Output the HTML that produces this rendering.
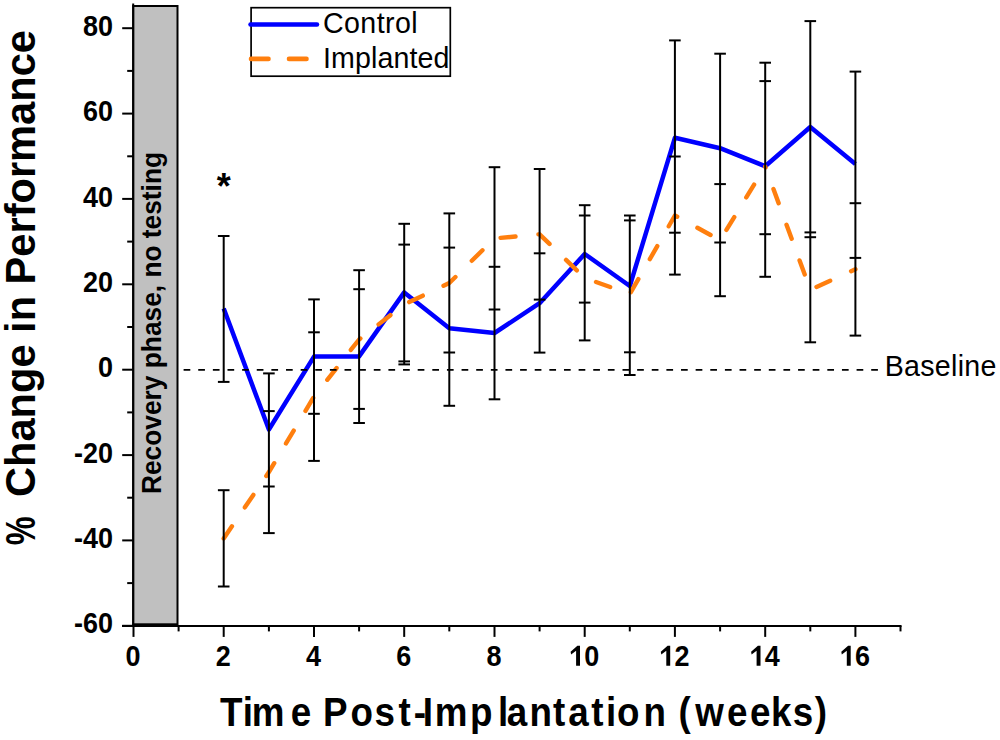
<!DOCTYPE html><html><head><meta charset="utf-8"><style>html,body{margin:0;padding:0;background:#fff;width:1000px;height:740px;overflow:hidden}svg{display:block}text{font-family:"Liberation Sans",sans-serif}</style></head><body>
<svg width="1000" height="740" viewBox="0 0 1000 740">
<rect x="133.2" y="6" width="44.30000000000001" height="618.3" fill="#c0c0c0" stroke="#000" stroke-width="2"/>
<line x1="133.2" y1="3.5" x2="133.2" y2="626.9" stroke="#000" stroke-width="2"/>
<line x1="122" y1="625.9" x2="901.54" y2="625.9" stroke="#000" stroke-width="2"/>
<line x1="122.19999999999999" y1="28.2" x2="133.2" y2="28.2" stroke="#000" stroke-width="2"/>
<text transform="translate(113,35.8) scale(0.9,1)" text-anchor="end" font-size="30" font-weight="bold">80</text>
<line x1="127.19999999999999" y1="70.9" x2="133.2" y2="70.9" stroke="#000" stroke-width="2"/>
<line x1="122.19999999999999" y1="113.6" x2="133.2" y2="113.6" stroke="#000" stroke-width="2"/>
<text transform="translate(113,121.2) scale(0.9,1)" text-anchor="end" font-size="30" font-weight="bold">60</text>
<line x1="127.19999999999999" y1="156.3" x2="133.2" y2="156.3" stroke="#000" stroke-width="2"/>
<line x1="122.19999999999999" y1="198.9" x2="133.2" y2="198.9" stroke="#000" stroke-width="2"/>
<text transform="translate(113,206.5) scale(0.9,1)" text-anchor="end" font-size="30" font-weight="bold">40</text>
<line x1="127.19999999999999" y1="241.6" x2="133.2" y2="241.6" stroke="#000" stroke-width="2"/>
<line x1="122.19999999999999" y1="284.3" x2="133.2" y2="284.3" stroke="#000" stroke-width="2"/>
<text transform="translate(113,291.9) scale(0.9,1)" text-anchor="end" font-size="30" font-weight="bold">20</text>
<line x1="127.19999999999999" y1="327.0" x2="133.2" y2="327.0" stroke="#000" stroke-width="2"/>
<line x1="122.19999999999999" y1="369.7" x2="133.2" y2="369.7" stroke="#000" stroke-width="2"/>
<text transform="translate(113,377.3) scale(0.9,1)" text-anchor="end" font-size="30" font-weight="bold">0</text>
<line x1="127.19999999999999" y1="412.4" x2="133.2" y2="412.4" stroke="#000" stroke-width="2"/>
<line x1="122.19999999999999" y1="455.1" x2="133.2" y2="455.1" stroke="#000" stroke-width="2"/>
<text transform="translate(113,462.7) scale(0.9,1)" text-anchor="end" font-size="30" font-weight="bold">-20</text>
<line x1="127.19999999999999" y1="497.7" x2="133.2" y2="497.7" stroke="#000" stroke-width="2"/>
<line x1="122.19999999999999" y1="540.4" x2="133.2" y2="540.4" stroke="#000" stroke-width="2"/>
<text transform="translate(113,548.0) scale(0.9,1)" text-anchor="end" font-size="30" font-weight="bold">-40</text>
<line x1="127.19999999999999" y1="583.1" x2="133.2" y2="583.1" stroke="#000" stroke-width="2"/>
<line x1="122.19999999999999" y1="625.8" x2="133.2" y2="625.8" stroke="#000" stroke-width="2"/>
<text transform="translate(113,633.4) scale(0.9,1)" text-anchor="end" font-size="30" font-weight="bold">-60</text>
<line x1="133.5" y1="625.9" x2="133.5" y2="636.9" stroke="#000" stroke-width="2"/>
<text transform="translate(133.0,666.2) scale(0.9,1)" text-anchor="middle" font-size="30" font-weight="bold">0</text>
<line x1="178.6" y1="625.9" x2="178.6" y2="631.4" stroke="#000" stroke-width="2"/>
<line x1="223.7" y1="625.9" x2="223.7" y2="636.9" stroke="#000" stroke-width="2"/>
<text transform="translate(223.2,666.2) scale(0.9,1)" text-anchor="middle" font-size="30" font-weight="bold">2</text>
<line x1="268.9" y1="625.9" x2="268.9" y2="631.4" stroke="#000" stroke-width="2"/>
<line x1="314.0" y1="625.9" x2="314.0" y2="636.9" stroke="#000" stroke-width="2"/>
<text transform="translate(313.5,666.2) scale(0.9,1)" text-anchor="middle" font-size="30" font-weight="bold">4</text>
<line x1="359.1" y1="625.9" x2="359.1" y2="631.4" stroke="#000" stroke-width="2"/>
<line x1="404.2" y1="625.9" x2="404.2" y2="636.9" stroke="#000" stroke-width="2"/>
<text transform="translate(403.7,666.2) scale(0.9,1)" text-anchor="middle" font-size="30" font-weight="bold">6</text>
<line x1="449.3" y1="625.9" x2="449.3" y2="631.4" stroke="#000" stroke-width="2"/>
<line x1="494.5" y1="625.9" x2="494.5" y2="636.9" stroke="#000" stroke-width="2"/>
<text transform="translate(494.0,666.2) scale(0.9,1)" text-anchor="middle" font-size="30" font-weight="bold">8</text>
<line x1="539.6" y1="625.9" x2="539.6" y2="631.4" stroke="#000" stroke-width="2"/>
<line x1="584.7" y1="625.9" x2="584.7" y2="636.9" stroke="#000" stroke-width="2"/>
<text transform="translate(584.2,666.2) scale(0.9,1)" text-anchor="middle" font-size="30" font-weight="bold"><tspan fill="transparent">1</tspan>0</text>
<polygon points="577.4,645.8 580.0,645.8 580.0,665.7 576.1,665.7 576.1,650.8 571.1,654.4 570.6,651.8" fill="#000"/>
<line x1="629.8" y1="625.9" x2="629.8" y2="631.4" stroke="#000" stroke-width="2"/>
<line x1="674.9" y1="625.9" x2="674.9" y2="636.9" stroke="#000" stroke-width="2"/>
<text transform="translate(674.4,666.2) scale(0.9,1)" text-anchor="middle" font-size="30" font-weight="bold"><tspan fill="transparent">1</tspan>2</text>
<polygon points="667.6,645.8 670.2,645.8 670.2,665.7 666.3,665.7 666.3,650.8 661.3,654.4 660.8,651.8" fill="#000"/>
<line x1="720.1" y1="625.9" x2="720.1" y2="631.4" stroke="#000" stroke-width="2"/>
<line x1="765.2" y1="625.9" x2="765.2" y2="636.9" stroke="#000" stroke-width="2"/>
<text transform="translate(764.7,666.2) scale(0.9,1)" text-anchor="middle" font-size="30" font-weight="bold"><tspan fill="transparent">1</tspan>4</text>
<polygon points="757.9,645.8 760.5,645.8 760.5,665.7 756.6,665.7 756.6,650.8 751.6,654.4 751.1,651.8" fill="#000"/>
<line x1="810.3" y1="625.9" x2="810.3" y2="631.4" stroke="#000" stroke-width="2"/>
<line x1="855.4" y1="625.9" x2="855.4" y2="636.9" stroke="#000" stroke-width="2"/>
<text transform="translate(854.9,666.2) scale(0.9,1)" text-anchor="middle" font-size="30" font-weight="bold"><tspan fill="transparent">1</tspan>6</text>
<polygon points="848.1,645.8 850.7,645.8 850.7,665.7 846.8,665.7 846.8,650.8 841.8,654.4 841.3,651.8" fill="#000"/>
<line x1="900.5" y1="625.9" x2="900.5" y2="631.4" stroke="#000" stroke-width="2"/>
<polyline points="223.7,308.5 268.9,429.5 314.0,356.6 359.1,356.4 404.2,292.4 449.3,328.3 494.5,333 539.6,303.2 584.7,254 629.8,286 674.9,137.8 720.1,148.2 765.2,166.2 810.3,127 855.4,164" fill="none" stroke="#0000ff" stroke-width="4.5" stroke-linejoin="round"/>
<polyline points="223.7,538.4 268.9,472.1 314.0,396.6 359.1,339.5 404.2,304.5 449.3,283 494.5,238.4 539.6,234.3 584.7,278 629.8,294 674.9,215.5 720.1,240.2 765.2,166.5" fill="none" stroke="#ff7f0e" stroke-width="4.4" stroke-dasharray="15 23" stroke-dashoffset="0.3999999999999999" stroke-linecap="round" stroke-linejoin="round"/>
<polyline points="765.2,166.5 810.3,289.7 855.4,269.2" fill="none" stroke="#ff7f0e" stroke-width="4.4" stroke-dasharray="15 23" stroke-dashoffset="14" stroke-linecap="round" stroke-linejoin="round"/>
<line x1="223.7" y1="236" x2="223.7" y2="381.9" stroke="#000" stroke-width="2"/>
<line x1="223.7" y1="490.2" x2="223.7" y2="586.5" stroke="#000" stroke-width="2"/>
<line x1="217.9" y1="236" x2="229.5" y2="236" stroke="#000" stroke-width="2"/>
<line x1="217.9" y1="381.9" x2="229.5" y2="381.9" stroke="#000" stroke-width="2"/>
<line x1="217.9" y1="490.2" x2="229.5" y2="490.2" stroke="#000" stroke-width="2"/>
<line x1="217.9" y1="586.5" x2="229.5" y2="586.5" stroke="#000" stroke-width="2"/>
<line x1="268.9" y1="373.4" x2="268.9" y2="533.1" stroke="#000" stroke-width="2"/>
<line x1="263.1" y1="373.4" x2="274.7" y2="373.4" stroke="#000" stroke-width="2"/>
<line x1="263.1" y1="411.1" x2="274.7" y2="411.1" stroke="#000" stroke-width="2"/>
<line x1="263.1" y1="486.5" x2="274.7" y2="486.5" stroke="#000" stroke-width="2"/>
<line x1="263.1" y1="533.1" x2="274.7" y2="533.1" stroke="#000" stroke-width="2"/>
<line x1="314.0" y1="299.4" x2="314.0" y2="460.9" stroke="#000" stroke-width="2"/>
<line x1="308.2" y1="299.4" x2="319.8" y2="299.4" stroke="#000" stroke-width="2"/>
<line x1="308.2" y1="332.3" x2="319.8" y2="332.3" stroke="#000" stroke-width="2"/>
<line x1="308.2" y1="413.8" x2="319.8" y2="413.8" stroke="#000" stroke-width="2"/>
<line x1="308.2" y1="460.9" x2="319.8" y2="460.9" stroke="#000" stroke-width="2"/>
<line x1="359.1" y1="270.2" x2="359.1" y2="423" stroke="#000" stroke-width="2"/>
<line x1="353.3" y1="270.2" x2="364.9" y2="270.2" stroke="#000" stroke-width="2"/>
<line x1="353.3" y1="289.2" x2="364.9" y2="289.2" stroke="#000" stroke-width="2"/>
<line x1="353.3" y1="408.9" x2="364.9" y2="408.9" stroke="#000" stroke-width="2"/>
<line x1="353.3" y1="423" x2="364.9" y2="423" stroke="#000" stroke-width="2"/>
<line x1="404.2" y1="223.8" x2="404.2" y2="364.4" stroke="#000" stroke-width="2"/>
<line x1="398.4" y1="223.8" x2="410.0" y2="223.8" stroke="#000" stroke-width="2"/>
<line x1="398.4" y1="244.6" x2="410.0" y2="244.6" stroke="#000" stroke-width="2"/>
<line x1="398.4" y1="361.4" x2="410.0" y2="361.4" stroke="#000" stroke-width="2"/>
<line x1="398.4" y1="364.4" x2="410.0" y2="364.4" stroke="#000" stroke-width="2"/>
<line x1="449.3" y1="213.4" x2="449.3" y2="405.8" stroke="#000" stroke-width="2"/>
<line x1="443.5" y1="213.4" x2="455.1" y2="213.4" stroke="#000" stroke-width="2"/>
<line x1="443.5" y1="247.6" x2="455.1" y2="247.6" stroke="#000" stroke-width="2"/>
<line x1="443.5" y1="352.5" x2="455.1" y2="352.5" stroke="#000" stroke-width="2"/>
<line x1="443.5" y1="405.8" x2="455.1" y2="405.8" stroke="#000" stroke-width="2"/>
<line x1="494.5" y1="167.2" x2="494.5" y2="399.3" stroke="#000" stroke-width="2"/>
<line x1="488.7" y1="167.2" x2="500.3" y2="167.2" stroke="#000" stroke-width="2"/>
<line x1="488.7" y1="266.8" x2="500.3" y2="266.8" stroke="#000" stroke-width="2"/>
<line x1="488.7" y1="309.5" x2="500.3" y2="309.5" stroke="#000" stroke-width="2"/>
<line x1="488.7" y1="399.3" x2="500.3" y2="399.3" stroke="#000" stroke-width="2"/>
<line x1="539.6" y1="169" x2="539.6" y2="352.6" stroke="#000" stroke-width="2"/>
<line x1="533.8" y1="169" x2="545.4" y2="169" stroke="#000" stroke-width="2"/>
<line x1="533.8" y1="253.3" x2="545.4" y2="253.3" stroke="#000" stroke-width="2"/>
<line x1="533.8" y1="299.6" x2="545.4" y2="299.6" stroke="#000" stroke-width="2"/>
<line x1="533.8" y1="352.6" x2="545.4" y2="352.6" stroke="#000" stroke-width="2"/>
<line x1="584.7" y1="205.2" x2="584.7" y2="340.4" stroke="#000" stroke-width="2"/>
<line x1="578.9" y1="205.2" x2="590.5" y2="205.2" stroke="#000" stroke-width="2"/>
<line x1="578.9" y1="215.5" x2="590.5" y2="215.5" stroke="#000" stroke-width="2"/>
<line x1="578.9" y1="302.6" x2="590.5" y2="302.6" stroke="#000" stroke-width="2"/>
<line x1="578.9" y1="340.4" x2="590.5" y2="340.4" stroke="#000" stroke-width="2"/>
<line x1="629.8" y1="215.5" x2="629.8" y2="375" stroke="#000" stroke-width="2"/>
<line x1="624.0" y1="215.5" x2="635.6" y2="215.5" stroke="#000" stroke-width="2"/>
<line x1="624.0" y1="220.4" x2="635.6" y2="220.4" stroke="#000" stroke-width="2"/>
<line x1="624.0" y1="352.3" x2="635.6" y2="352.3" stroke="#000" stroke-width="2"/>
<line x1="624.0" y1="375" x2="635.6" y2="375" stroke="#000" stroke-width="2"/>
<line x1="674.9" y1="40.4" x2="674.9" y2="274.6" stroke="#000" stroke-width="2"/>
<line x1="669.1" y1="40.4" x2="680.7" y2="40.4" stroke="#000" stroke-width="2"/>
<line x1="669.1" y1="156.5" x2="680.7" y2="156.5" stroke="#000" stroke-width="2"/>
<line x1="669.1" y1="232.7" x2="680.7" y2="232.7" stroke="#000" stroke-width="2"/>
<line x1="669.1" y1="274.6" x2="680.7" y2="274.6" stroke="#000" stroke-width="2"/>
<line x1="720.1" y1="53.7" x2="720.1" y2="296.2" stroke="#000" stroke-width="2"/>
<line x1="714.3" y1="53.7" x2="725.9" y2="53.7" stroke="#000" stroke-width="2"/>
<line x1="714.3" y1="184.1" x2="725.9" y2="184.1" stroke="#000" stroke-width="2"/>
<line x1="714.3" y1="242.5" x2="725.9" y2="242.5" stroke="#000" stroke-width="2"/>
<line x1="714.3" y1="296.2" x2="725.9" y2="296.2" stroke="#000" stroke-width="2"/>
<line x1="765.2" y1="62.7" x2="765.2" y2="276.8" stroke="#000" stroke-width="2"/>
<line x1="759.4" y1="62.7" x2="771.0" y2="62.7" stroke="#000" stroke-width="2"/>
<line x1="759.4" y1="81.1" x2="771.0" y2="81.1" stroke="#000" stroke-width="2"/>
<line x1="759.4" y1="234.2" x2="771.0" y2="234.2" stroke="#000" stroke-width="2"/>
<line x1="759.4" y1="276.8" x2="771.0" y2="276.8" stroke="#000" stroke-width="2"/>
<line x1="810.3" y1="21.1" x2="810.3" y2="342.3" stroke="#000" stroke-width="2"/>
<line x1="804.5" y1="21.1" x2="816.1" y2="21.1" stroke="#000" stroke-width="2"/>
<line x1="804.5" y1="232.4" x2="816.1" y2="232.4" stroke="#000" stroke-width="2"/>
<line x1="804.5" y1="237.2" x2="816.1" y2="237.2" stroke="#000" stroke-width="2"/>
<line x1="804.5" y1="342.3" x2="816.1" y2="342.3" stroke="#000" stroke-width="2"/>
<line x1="855.4" y1="71.6" x2="855.4" y2="335.6" stroke="#000" stroke-width="2"/>
<line x1="849.6" y1="71.6" x2="861.2" y2="71.6" stroke="#000" stroke-width="2"/>
<line x1="849.6" y1="203.2" x2="861.2" y2="203.2" stroke="#000" stroke-width="2"/>
<line x1="849.6" y1="257.9" x2="861.2" y2="257.9" stroke="#000" stroke-width="2"/>
<line x1="849.6" y1="335.6" x2="861.2" y2="335.6" stroke="#000" stroke-width="2"/>
<line x1="183.6" y1="369.8" x2="878.5" y2="369.8" stroke="#000" stroke-width="1.8" stroke-dasharray="6.7 7.93"/>
<text x="223.7" y="198.8" text-anchor="middle" font-size="36" font-weight="bold">*</text>
<rect x="251.1" y="7.7" width="199.2" height="68.5" fill="#fff" stroke="#000" stroke-width="1.7"/>
<line x1="250.5" y1="24.4" x2="317" y2="24.4" stroke="#0000ff" stroke-width="4.5" stroke-linecap="round"/>
<line x1="251" y1="58.9" x2="307" y2="58.9" stroke="#ff7f0e" stroke-width="4.6" stroke-dasharray="17.5 20.5" stroke-linecap="round"/>
<text x="323" y="32.6" font-size="28.6" letter-spacing="0.4">Control</text>
<text x="323" y="68.2" font-size="28.6" letter-spacing="0.1">Implanted</text>
<text x="884.7" y="375.8" font-size="28.6" letter-spacing="0.3">Baseline</text>
<text transform="translate(161.3,494) rotate(-90) scale(0.94,1)" font-size="28" font-weight="bold">Recovery phase, no testing</text>
<text transform="translate(35,545.3) rotate(-90) scale(0.78,1)" font-size="41.6" font-weight="bold">%</text>
<text transform="translate(35,497.0) rotate(-90)" font-size="41.6" font-weight="bold">Change in Performance</text>
<g><text transform="translate(231.35,726) scale(0.92,1.035)" x="-12.23" y="0" font-size="40" font-weight="bold">T</text><text transform="translate(247.95,726) scale(0.92,1.035)" x="-5.54" y="0" font-size="40" font-weight="bold">i</text><text transform="translate(268.1,726) scale(0.92,1.035)" x="-17.86" y="0" font-size="40" font-weight="bold">m</text><text transform="translate(301.1,726) scale(0.92,1.035)" x="-11.22" y="0" font-size="40" font-weight="bold">e</text><text transform="translate(335.9,726) scale(0.92,1.035)" x="-13.99" y="0" font-size="40" font-weight="bold">P</text><text transform="translate(361.7,726) scale(0.92,1.035)" x="-12.22" y="0" font-size="40" font-weight="bold">o</text><text transform="translate(384.5,726) scale(0.92,1.035)" x="-11.01" y="0" font-size="40" font-weight="bold">s</text><text transform="translate(404.6,726) scale(0.92,1.035)" x="-6.66" y="0" font-size="40" font-weight="bold">t</text><text transform="translate(419.9,726) scale(0.92,1.035)" x="-6.64" y="0" font-size="40" font-weight="bold">-</text><text transform="translate(427.8,726) scale(0.92,1.035)" x="-5.56" y="0" font-size="40" font-weight="bold">I</text><text transform="translate(451.2,726) scale(0.92,1.035)" x="-17.86" y="0" font-size="40" font-weight="bold">m</text><text transform="translate(481.6,726) scale(0.92,1.035)" x="-12.71" y="0" font-size="40" font-weight="bold">p</text><text transform="translate(503.2,726) scale(0.92,1.035)" x="-5.54" y="0" font-size="40" font-weight="bold">l</text><text transform="translate(517.6,726) scale(0.92,1.035)" x="-11.84" y="0" font-size="40" font-weight="bold">a</text><text transform="translate(540.8,726) scale(0.92,1.035)" x="-12.29" y="0" font-size="40" font-weight="bold">n</text><text transform="translate(559.2,726) scale(0.92,1.035)" x="-6.66" y="0" font-size="40" font-weight="bold">t</text><text transform="translate(579.25,726) scale(0.92,1.035)" x="-11.84" y="0" font-size="40" font-weight="bold">a</text><text transform="translate(597.45,726) scale(0.92,1.035)" x="-6.66" y="0" font-size="40" font-weight="bold">t</text><text transform="translate(611.15,726) scale(0.92,1.035)" x="-5.54" y="0" font-size="40" font-weight="bold">i</text><text transform="translate(628.25,726) scale(0.92,1.035)" x="-12.22" y="0" font-size="40" font-weight="bold">o</text><text transform="translate(654.85,726) scale(0.92,1.035)" x="-12.29" y="0" font-size="40" font-weight="bold">n</text><text transform="translate(685.6,726) scale(0.92,1.035)" x="-7.64" y="0" font-size="40" font-weight="bold">(</text><text transform="translate(709.6,726) scale(0.92,1.035)" x="-15.54" y="0" font-size="40" font-weight="bold">w</text><text transform="translate(737.2,726) scale(0.92,1.035)" x="-11.22" y="0" font-size="40" font-weight="bold">e</text><text transform="translate(760.4,726) scale(0.92,1.035)" x="-11.22" y="0" font-size="40" font-weight="bold">e</text><text transform="translate(782.4,726) scale(0.92,1.035)" x="-12.54" y="0" font-size="40" font-weight="bold">k</text><text transform="translate(802.8,726) scale(0.92,1.035)" x="-11.01" y="0" font-size="40" font-weight="bold">s</text><text transform="translate(820,726) scale(0.92,1.035)" x="-5.68" y="0" font-size="40" font-weight="bold">)</text></g>
</svg></body></html>
